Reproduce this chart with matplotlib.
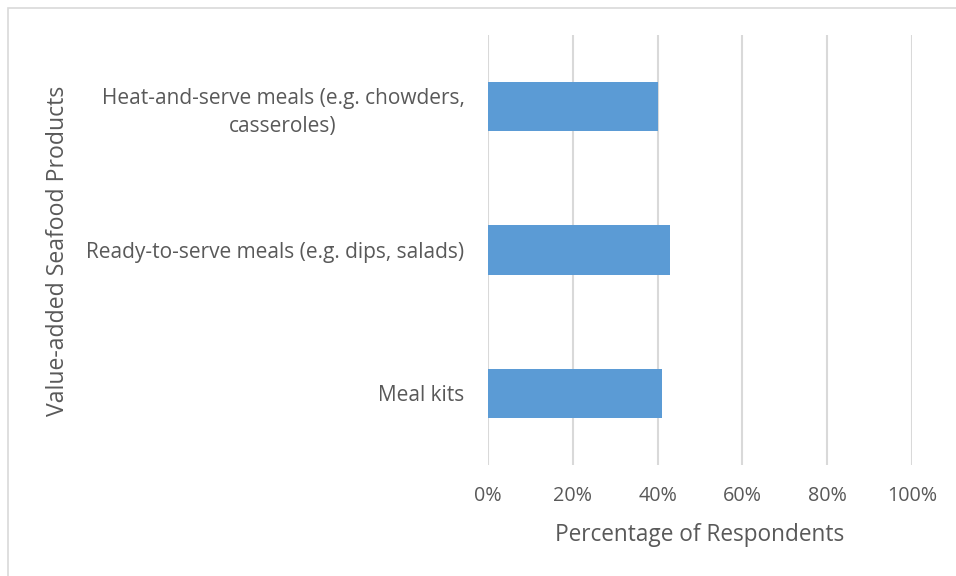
import matplotlib.pyplot as plt
from matplotlib.patches import Rectangle

categories = [
    "Meal kits",
    "Ready-to-serve meals (e.g. dips, salads)",
    "Heat-and-serve meals (e.g. chowders,\ncasseroles)",
]
values = [41, 43, 40]
x_ticks = [0, 20, 40, 60, 80, 100]
x_tick_labels = ["0%", "20%", "40%", "60%", "80%", "100%"]

plt.rcParams['font.family'] = ['Open Sans', 'DejaVu Sans']
text_color = "#595959"
bar_color = "#5B9BD5"
grid_color = "#D9D9D9"

W, H = 956, 576
fig = plt.figure(figsize=(W / 100, H / 100), dpi=100)

# chart frame
fig.patches.append(Rectangle((8 / W, -0.01), 1.02, 1 - 8 / H + 0.01,
                             transform=fig.transFigure, fill=False,
                             edgecolor=grid_color, linewidth=1.2))

ax = fig.add_axes([488 / W, 1 - 465 / H, (912 - 488) / W, (465 - 35) / H])
ax.barh(range(len(categories)), values, height=0.345, color=bar_color, zorder=3)

ax.set_xlim(0, 100)
ax.set_ylim(-0.5, len(categories) - 0.5)
ax.set_xticks(x_ticks)
ax.set_xticklabels(x_tick_labels)
ax.set_yticks(range(len(categories)))
ax.set_yticklabels(categories, multialignment='center')

ax.grid(axis='x', color=grid_color, linewidth=1.5, zorder=0)
for s in ax.spines.values():
    s.set_visible(False)
ax.tick_params(axis='both', length=0, labelcolor=text_color)
ax.tick_params(axis='x', pad=15, labelsize=14.2)
ax.tick_params(axis='y', pad=17, labelsize=15)
for lab in ax.get_yticklabels():
    lab.set_linespacing(1.45)

ax.set_xlabel("Percentage of Respondents", fontsize=16.3, color=text_color, va='center')
ax.set_ylabel("Value-added Seafood Products", fontsize=16.6, color=text_color, va='center')
ax.xaxis.set_label_coords(700 / W, 1 - 535 / H, transform=fig.transFigure)
ax.yaxis.set_label_coords(58 / W, 1 - 251 / H, transform=fig.transFigure)

fig.savefig("out.png", dpi=100)
